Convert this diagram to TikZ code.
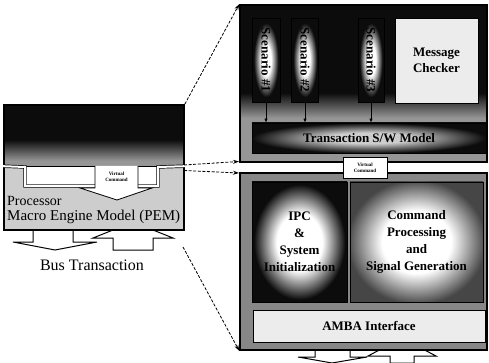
\documentclass[tikz,border=0pt]{standalone}
\usepackage{fontspec}
\setmainfont{LiberationSerif}[Extension=.ttf, UprightFont=*-Regular, BoldFont=*-Bold]
\usetikzlibrary{arrows.meta, positioning, calc}
\definecolor{scanblack}{RGB}{12,12,12}
\definecolor{scangray}{RGB}{135,135,135}
\definecolor{scanmid}{RGB}{150,150,150}
\definecolor{scanlight}{RGB}{205,205,205}
\definecolor{scanpaper}{RGB}{236,236,236}
\definecolor{scandim}{RGB}{70,70,70}
\pgfdeclareradialshading{scenglow}{\pgfpoint{0bp}{0bp}}{color(0bp)=(white); color(9bp)=(white); color(22bp)=(scanblack); color(50bp)=(scanblack)}
\pgfdeclareradialshading{ipcglow}{\pgfpoint{0bp}{0bp}}{color(0bp)=(white); color(12bp)=(white); color(24bp)=(scanblack); color(50bp)=(scanblack)}
\pgfdeclareradialshading{cmdglow}{\pgfpoint{0bp}{0bp}}{color(0bp)=(white); color(13bp)=(white); color(26bp)=(scandim); color(50bp)=(scandim)}
\pgfdeclareradialshading{barglow}{\pgfpoint{0bp}{0bp}}{color(0bp)=(scanlight); color(9bp)=(scanlight); color(25bp)=(scanblack); color(50bp)=(scanblack)}
\pgfdeclareverticalshading{upperfade}{100bp}{color(0bp)=(scanmid); color(39bp)=(scanmid); color(47bp)=(scanblack); color(100bp)=(scanblack)}
\pgfdeclareverticalshading{pemfade}{100bp}{color(0bp)=(scanmid); color(30bp)=(scanmid); color(47bp)=(scanblack); color(100bp)=(scanblack)}
\tikzset{
  frame/.style     = {draw=black, line width=1.6pt, inner sep=0pt},
  glowbox/.style   = {draw=black, line width=0.8pt, shade, inner sep=0pt, align=center,
                      font=\bfseries\fontsize{13}{17}\selectfont},
  paperbox/.style  = {draw=black, line width=0.9pt, fill=scanpaper, inner sep=0pt, align=center,
                      font=\bfseries\fontsize{13}{16}\selectfont},
  scenlab/.style   = {rotate=-90, font=\bfseries\fontsize{13}{14}\selectfont, inner sep=0pt},
  plainlab/.style  = {font=\rmfamily\mdseries\fontsize{14}{15}\selectfont, inner sep=0pt},
  tinylab/.style   = {font=\bfseries\fontsize{5}{6}\selectfont, align=center, inner sep=0.5pt},
  busarrow/.style  = {draw=black, line width=1pt, fill=white, line join=miter},
  pipe/.style      = {draw=black, line width=0.7pt, double=white, double distance=2pt},
  scenflow/.style  = {-{Latex[length=4pt,width=3.5pt]}, line width=0.8pt, draw=black},
  dashlink/.style  = {-{Stealth[length=6pt,width=4pt]}, line width=0.8pt, dash pattern=on 3pt off 1.6pt},
}
\begin{document}
\begin{tikzpicture}[x=1pt, y=-1pt]
\useasboundingbox (0,0) rectangle (489,363);

% ---------- bus arrows (behind the boxes) ----------
\draw[busarrow] (33,230) -- (33,242) -- (13,242) -- (55,250) -- (97,242) -- (73,242) -- (73,230);
\draw[busarrow] (113,250) -- (113,238) -- (93,238) -- (133,222) -- (173,238) -- (153,238) -- (153,250) -- cycle;
\draw[busarrow] (315,348) -- (315,357) -- (298,357) -- (332,363) -- (367,357) -- (350,357) -- (350,348);
\draw[busarrow] (390,363) -- (390,356) -- (368,356) -- (402,338) -- (436,356) -- (414,356) -- (414,363) -- cycle;

% ---------- processor macro engine model ----------
\node[frame, shade, shading=pemfade, minimum width=180pt, minimum height=62pt] (pemtop) at (94,136) {};
\node[frame, fill=scanlight, minimum width=180pt, minimum height=63pt] (pem) at (94,198.5) {};
\fill[white] (25,167) rectangle (158,186);
\draw[pipe] (pem.north west) -- (25,167) -- (25,186) -- (158,186) -- (158,167) -- (pem.north east);
\draw[busarrow, line width=0.8pt] (95,166) -- (95,188) -- (80,188) -- (117,200) -- (152,188) -- (138,188) -- (138,166);
\node[tinylab] (pemcmd) at (116.5,177) {Virtual\\Command};
\node[plainlab, anchor=west] (proc) at (7,201) {Processor};
\node[plainlab, anchor=west, font=\rmfamily\mdseries\fontsize{15}{16}\selectfont] (pemname) at (7,217) {Macro Engine Model (PEM)};
\node[plainlab, font=\rmfamily\mdseries\fontsize{16}{17}\selectfont] (buslab) at (92,265) {Bus Transaction};

% ---------- transaction s/w model side ----------
\node[frame, shade, shading=upperfade, minimum width=247pt, minimum height=157pt] (upper) at (363.5,83.5) {};
\node[frame, fill=scangray, minimum width=247pt, minimum height=177pt] (lower) at (363.5,261.5) {};
\fill[white] (241,163.5) rectangle (486,171.5);

\node[glowbox, shading=scenglow, minimum width=28pt, minimum height=84pt] (sc1) at (266,60) {};
\node[glowbox, shading=scenglow, minimum width=27pt, minimum height=84pt] (sc2) at (305,60) {};
\node[glowbox, shading=scenglow, minimum width=26pt, minimum height=84pt] (sc3) at (371,60) {};
\node[scenlab] at (sc1) {Scenario \#1};
\node[scenlab] at (sc2) {Scenario \#2};
\node[scenlab] at (sc3) {Scenario \#3};
\node[paperbox, minimum width=83pt, minimum height=85pt] (msgchk) at (436.5,60.5) {Message\\Checker};

\node[glowbox, shading=barglow, minimum width=234pt, minimum height=30pt] (swmodel) at (369,138) {Transaction S/W Model};

\node[glowbox, shading=ipcglow, minimum width=95pt, minimum height=120pt] (ipc) at (299.5,242) {IPC\\\&\\System\\Initialization};
\node[glowbox, shading=cmdglow, minimum width=133pt, minimum height=120pt] (cmdproc) at (416.5,242) {Command\\Processing\\and\\Signal Generation};
\node[paperbox, minimum width=232pt, minimum height=32pt] (amba) at (369,326) {AMBA Interface};

\node[tinylab, draw=black, line width=0.8pt, fill=white, minimum width=44pt, minimum height=21pt] (vcmd) at (365,167.5) {Virtual\\Command};

% ---------- connectors ----------
\draw[scenflow] (sc1.south) -- (sc1.south |- swmodel.north);
\draw[scenflow] (sc2.south) -- (sc2.south |- swmodel.north);
\draw[scenflow] (sc3.south) -- (sc3.south |- swmodel.north);

\coordinate (vout1) at (184,165);
\coordinate (vout2) at (184,170.5);
\coordinate (vin1) at (239,161.5);
\coordinate (vin2) at (239,173);
\draw[dashlink] (vout1) -- (vin1);
\draw[dashlink] (vout2) -- (vin2);

\coordinate (zoomlow) at (183,247);
\draw[dashlink] (pemtop.north east) -- (upper.north west);
\draw[dashlink] (zoomlow) -- (lower.south west);

\end{tikzpicture}
\end{document}
